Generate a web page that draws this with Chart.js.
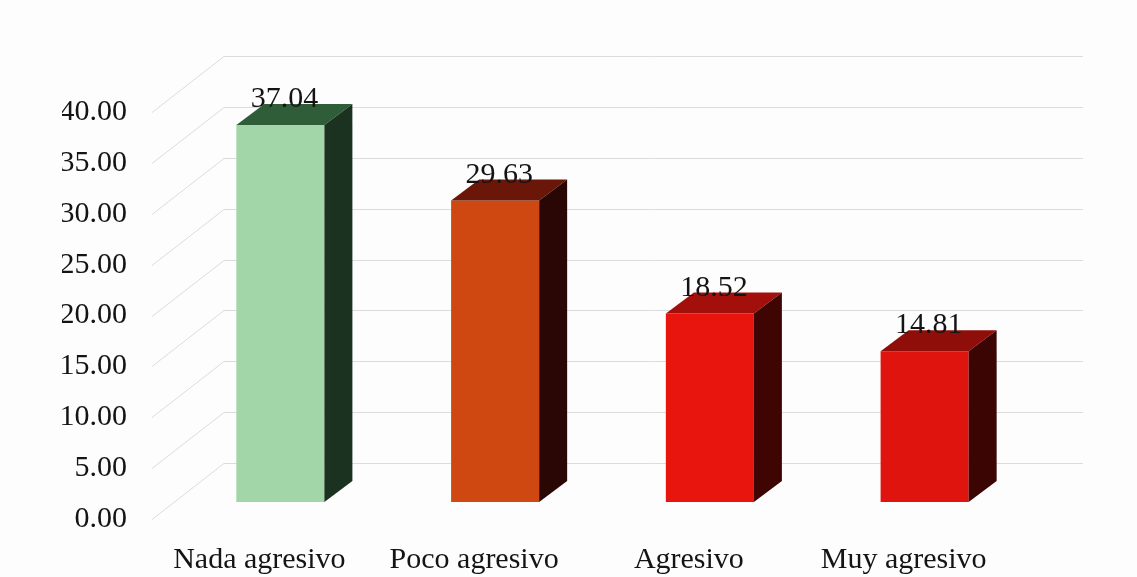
<!DOCTYPE html>
<html>
<head>
<meta charset="utf-8">
<script src="https://cdn.jsdelivr.net/npm/chart.js@4"></script>
<style>
  html, body { margin: 0; padding: 0; background: #fdfdfd; }
  #wrap { width: 1137px; height: 577px; }
</style>
</head>
<body>
<div id="wrap"><canvas id="myBarChart"></canvas></div>
<script>
const categories = ["Nada agresivo", "Poco agresivo", "Agresivo", "Muy agresivo"];
const percentages = [37.04, 29.63, 18.52, 14.81];
const frontColors = ["#a2d6a8", "#cf4812", "#e8150f", "#e0140e"];
const topColors = ["#2f5d38", "#6a1609", "#a3100b", "#900e09"];
const sideColors = ["#1b3221", "#2a0704", "#3e0503", "#3a0503"];

// 3D offsets (bar depth, and bar plane -> back wall / front plane)
const barDepth = { dx: 28, dy: 21 };
const backWall = { dx: 51, dy: 39 };
const frontPlane = { dx: -21, dy: 17 };

const textFont = "'Liberation Serif', 'Times New Roman', serif";

const walls3d = {
    id: "walls3d",
    beforeDatasetsDraw(chart) {
        const ctx = chart.ctx;
        const y = chart.scales.y;
        const area = chart.chartArea;
        ctx.save();
        ctx.strokeStyle = "#dcdcdc";
        ctx.lineWidth = 1;
        y.ticks.forEach(t => {
            const py = Math.round(y.getPixelForValue(t.value)) + 0.5;
            ctx.beginPath();
            ctx.moveTo(area.left + frontPlane.dx, py + frontPlane.dy);
            ctx.lineTo(area.left + backWall.dx, py - backWall.dy);
            ctx.lineTo(area.right + backWall.dx, py - backWall.dy);
            ctx.stroke();
        });
        ctx.restore();
    },
    afterDatasetsDraw(chart) {
        const ctx = chart.ctx;
        const meta = chart.getDatasetMeta(0);
        ctx.save();
        meta.data.forEach((bar, i) => {
            const l = bar.x - bar.width / 2;
            const r = bar.x + bar.width / 2;
            const t = bar.y;
            const b = bar.base;
            // top face
            ctx.fillStyle = topColors[i];
            ctx.beginPath();
            ctx.moveTo(l, t);
            ctx.lineTo(l + barDepth.dx, t - barDepth.dy);
            ctx.lineTo(r + barDepth.dx, t - barDepth.dy);
            ctx.lineTo(r, t);
            ctx.closePath();
            ctx.fill();
            // side face
            ctx.fillStyle = sideColors[i];
            ctx.beginPath();
            ctx.moveTo(r, t);
            ctx.lineTo(r + barDepth.dx, t - barDepth.dy);
            ctx.lineTo(r + barDepth.dx, b - barDepth.dy);
            ctx.lineTo(r, b);
            ctx.closePath();
            ctx.fill();
            // value label
            ctx.fillStyle = "#141414";
            ctx.font = "30px " + textFont;
            ctx.textAlign = "center";
            ctx.textBaseline = "alphabetic";
            ctx.fillText(percentages[i].toFixed(2), bar.x + 4, t - 18);
        });
        ctx.restore();
    }
};

new Chart("myBarChart", {
    type: "bar",
    data: {
        labels: categories,
        datasets: [{
            data: percentages,
            backgroundColor: frontColors,
            borderWidth: 0,
            barPercentage: 0.41,
            categoryPercentage: 1
        }]
    },
    options: {
        responsive: true,
        maintainAspectRatio: false,
        animation: false,
        layout: { padding: { left: 62, right: 105, top: 95, bottom: 0 } },
        plugins: {
            legend: { display: false },
            tooltip: { enabled: false }
        },
        scales: {
            x: {
                grid: { display: false, drawTicks: false },
                border: { display: false },
                ticks: {
                    color: "#141414",
                    font: { family: textFont, size: 30 },
                    padding: 40,
                    labelOffset: -21,
                    maxRotation: 0,
                    autoSkip: false
                },
                afterFit(scale) {
                    scale.height = 75;
                    scale.paddingLeft = 0;
                    scale.paddingRight = 0;
                }
            },
            y: {
                min: 0,
                max: 40,
                grid: { display: false, drawTicks: false },
                border: { display: false },
                ticks: {
                    stepSize: 5,
                    color: "#141414",
                    font: { family: textFont, size: 30 },
                    padding: 46,
                    labelOffset: 17,
                    callback: v => v.toFixed(2)
                },
                afterFit(scale) {
                    scale.width = 111;
                    scale.paddingTop = 0;
                    scale.paddingBottom = 0;
                }
            }
        }
    },
    plugins: [walls3d]
});
</script>
</body>
</html>
